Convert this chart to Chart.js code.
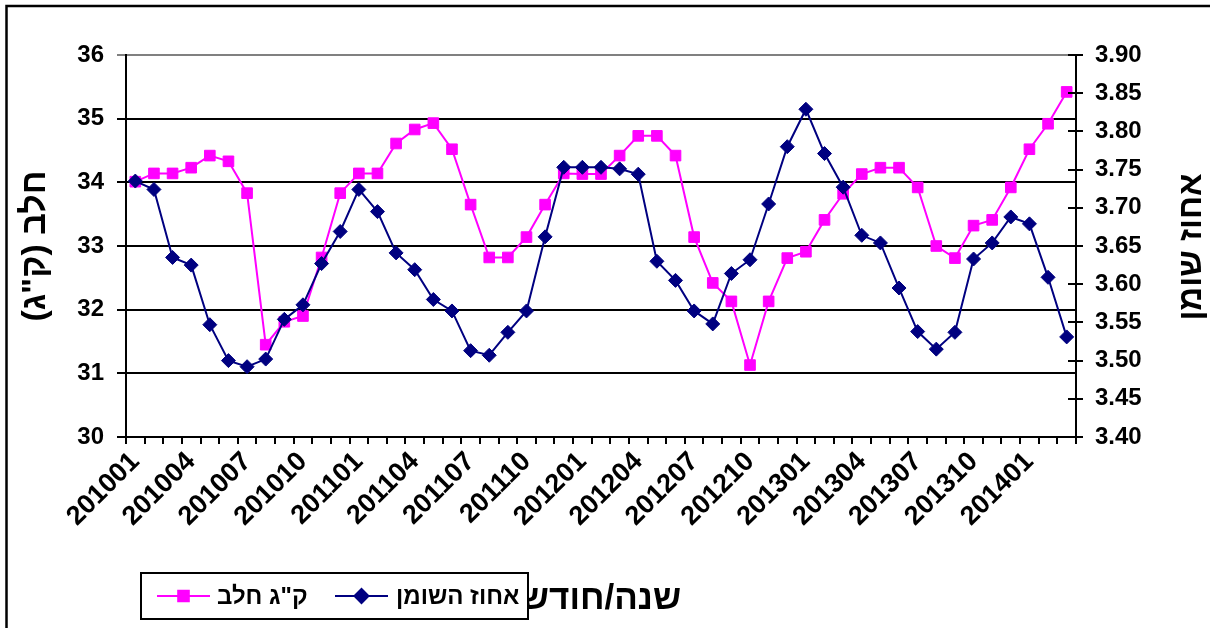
<!DOCTYPE html>
<html>
<head>
<meta charset="utf-8">
<script src="https://cdn.jsdelivr.net/npm/chart.js@4/dist/chart.umd.min.js"></script>
<style>
html,body{margin:0;padding:0;background:#fff;overflow:hidden}
#wrap{width:1210px;height:628px;position:relative}
</style>
</head>
<body>
<div id="wrap"><canvas id="c" dir="rtl"></canvas></div>
<script>
// months, yyyymm
var months = ['201001','201002','201003','201004','201005','201006','201007','201008','201009','201010','201011','201012',
  '201101','201102','201103','201104','201105','201106','201107','201108','201109','201110','201111','201112',
  '201201','201202','201203','201204','201205','201206','201207','201208','201209','201210','201211','201212',
  '201301','201302','201303','201304','201305','201306','201307','201308','201309','201310','201311','201312',
  '201401','201402','201403'];

// ק"ג חלב (left axis)
var milk = [34.01,34.14,34.14,34.23,34.42,34.33,33.83,31.45,31.81,31.90,32.82,33.83,
  34.14,34.14,34.61,34.83,34.93,34.52,33.65,32.82,32.82,33.14,33.65,34.14,
  34.13,34.13,34.42,34.73,34.73,34.42,33.14,32.42,32.13,31.13,32.13,32.81,
  32.91,33.41,33.82,34.13,34.23,34.23,33.92,33.00,32.81,33.32,33.41,33.92,
  34.52,34.92,35.42];

// אחוז השומן (right axis)
var fat = [3.735,3.724,3.635,3.625,3.547,3.500,3.492,3.502,3.554,3.573,3.627,3.669,
  3.724,3.695,3.641,3.619,3.580,3.565,3.513,3.507,3.537,3.565,3.662,3.753,
  3.753,3.753,3.751,3.744,3.630,3.605,3.565,3.548,3.614,3.632,3.705,3.780,
  3.829,3.771,3.727,3.664,3.654,3.595,3.538,3.515,3.537,3.633,3.654,3.688,
  3.679,3.609,3.531];

var FONT = '"Liberation Sans", Arial, "DejaVu Sans", sans-serif';
Chart.defaults.font.family = FONT;
Chart.defaults.color = '#000';

// outer frame
var framePlugin = {
  id: 'frame',
  beforeDraw: function(chart) {
    var ctx = chart.ctx;
    ctx.save();
    ctx.strokeStyle = '#000';
    ctx.lineWidth = 2.5;
    ctx.strokeRect(6.5, 6, 1400, 800);
    ctx.restore();
  }
};

// right axis title (rotated like the left one), inner half of right ticks, boxed legend
var extrasPlugin = {
  id: 'extras',
  afterDraw: function(chart) {
    var ctx = chart.ctx;
    var r = chart.scales.y1;
    ctx.save();
    ctx.strokeStyle = '#000';
    ctx.lineWidth = 2;
    r.ticks.forEach(function(t) {
      var y = Math.round(r.getPixelForValue(t.value));
      ctx.beginPath();
      ctx.moveTo(r.left - 8, y);
      ctx.lineTo(r.left, y);
      ctx.stroke();
    });
    ctx.restore();

    ctx.save();
    ctx.direction = 'rtl';
    ctx.fillStyle = '#000';
    ctx.font = 'bold 33px ' + FONT;
    ctx.textAlign = 'center';
    ctx.textBaseline = 'middle';
    ctx.translate(1192, 247);
    ctx.rotate(-Math.PI / 2);
    ctx.fillText('אחוז שומן', 0, 0);
    ctx.restore();

    // legend
    ctx.save();
    ctx.fillStyle = '#fff';
    ctx.fillRect(141, 573, 387, 46);
    ctx.strokeStyle = '#000';
    ctx.lineWidth = 2;
    ctx.strokeRect(141, 573, 387, 46);
    var lineX = [157, 335], textX = [217, 396], cy = 596;
    chart.data.datasets.forEach(function(ds, i) {
      ctx.strokeStyle = ds.borderColor;
      ctx.lineWidth = 2;
      ctx.beginPath();
      ctx.moveTo(lineX[i], cy);
      ctx.lineTo(lineX[i] + 53, cy);
      ctx.stroke();
      ctx.fillStyle = ds.pointBackgroundColor;
      ctx.strokeStyle = ds.pointBorderColor;
      Chart.helpers.drawPoint(ctx, {pointStyle: ds.pointStyle, radius: ds.pointRadius, rotation: 0, borderWidth: 1}, lineX[i] + 26.5, cy);
      ctx.direction = 'rtl';
      ctx.fillStyle = '#000';
      ctx.font = 'bold 24px ' + FONT;
      ctx.textAlign = 'left';
      ctx.textBaseline = 'middle';
      ctx.fillText(ds.label, textX[i], cy + 1);
    });
    ctx.restore();
  }
};

new Chart(document.getElementById('c'), {
  type: 'line',
  data: {
    labels: months,
    datasets: [{
      label: 'ק"ג חלב',
      data: milk,
      yAxisID: 'y',
      order: 1,
      borderColor: '#ff00ff',
      backgroundColor: '#ff00ff',
      pointBackgroundColor: '#ff00ff',
      pointBorderColor: '#ff00ff',
      pointStyle: 'rect',
      pointRadius: 7.5,
      pointBorderWidth: 1,
      borderWidth: 2,
      tension: 0
    }, {
      label: 'אחוז השומן',
      data: fat,
      yAxisID: 'y1',
      order: 0,
      borderColor: '#000080',
      backgroundColor: '#000080',
      pointBackgroundColor: '#000080',
      pointBorderColor: '#000080',
      pointStyle: 'rectRot',
      pointRadius: 7,
      pointBorderWidth: 1,
      borderWidth: 2,
      tension: 0
    }]
  },
  options: {
    responsive: true,
    maintainAspectRatio: false,
    animation: false,
    layout: {padding: {top: 55, left: 0, right: 0, bottom: 0}},
    plugins: {legend: {display: false}, tooltip: {enabled: false}},
    scales: {
      x: {
        offset: true,
        grid: {offset: true, drawOnChartArea: false, tickLength: 7, color: '#000', lineWidth: 2},
        border: {color: '#000', width: 2},
        ticks: {
          autoSkip: false, maxRotation: 45, minRotation: 45, padding: 2,
          font: {size: 27, weight: 'bold'},
          callback: function(v, i) { return i % 3 === 0 ? months[i] : ''; }
        },
        title: {display: true, text: 'שנה/חודש', font: {size: 35, weight: 'bold'}, padding: {top: 0, bottom: 8}},
        afterFit: function(s) { s.height = 191; }
      },
      y: {
        position: 'left',
        min: 30, max: 36,
        grid: {
          color: function(c) { return c.tick && c.tick.value === 36 ? '#808080' : '#000'; },
          lineWidth: 2, tickLength: 9
        },
        border: {color: '#000', width: 2},
        ticks: {stepSize: 1, padding: 13, font: {size: 24, weight: 'bold'}},
        title: {display: true, text: 'חלב (ק"ג)', font: {size: 34, weight: 'bold'}, padding: {top: 15, bottom: 0}},
        afterFit: function(s) { s.width = 126; }
      },
      y1: {
        position: 'right',
        min: 3.4, max: 3.9,
        grid: {drawOnChartArea: false, tickLength: 7, color: '#000', lineWidth: 2},
        border: {color: '#000', width: 2},
        ticks: {
          stepSize: 0.05, padding: 12, font: {size: 24, weight: 'bold'},
          callback: function(v) { return v.toFixed(2); }
        },
        afterFit: function(s) { s.width = 134; }
      }
    }
  },
  plugins: [framePlugin, extrasPlugin]
});
</script>
</body>
</html>
